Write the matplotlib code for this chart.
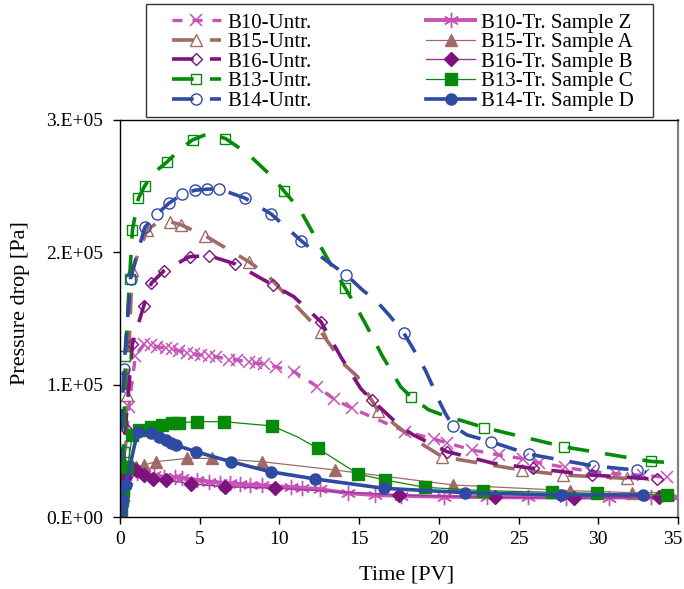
import matplotlib
matplotlib.use("Agg")
import matplotlib.pyplot as plt
from matplotlib.ticker import FuncFormatter, FixedLocator
from matplotlib.patches import Rectangle
from matplotlib.transforms import ScaledTranslation

plt.rcParams['font.family'] = ['Liberation Serif', 'DejaVu Serif']

# ---------------- data (pressure in units of 1e5 Pa) ----------------
b10u_t = [0.05, 0.2, 0.55, 0.97, 1.52, 1.93, 2.35, 2.87, 3.29, 3.71, 4.23, 4.65, 5.07, 5.59, 6.01,
          6.84, 7.37, 8.10, 8.51, 9.04, 9.77, 10.92, 12.38, 13.43, 14.58, 17.9, 19.7, 20.5, 22.1,
          23.8, 25.3, 26.3, 27.9, 29.5, 31.1, 32.8, 34.3]
b10u_p = [0.05, 0.30, 0.83, 1.22, 1.305, 1.30, 1.287, 1.275, 1.267, 1.257, 1.237, 1.23, 1.225, 1.217, 1.212,
          1.19, 1.187, 1.17, 1.162, 1.156, 1.136, 1.098, 0.985, 0.89, 0.82, 0.645, 0.59, 0.56, 0.506,
          0.468, 0.44, 0.41, 0.375, 0.345, 0.327, 0.315, 0.30]

b15u_t = [0.1, 0.45, 0.76, 1.7, 2.3, 3.12, 3.84, 5.36, 8.07, 9.23, 10.7, 12.6, 14.0, 14.9, 16.2,
          18.2, 20.2, 22.6, 25.2, 27.8, 31.8]
b15u_p = [0.1, 0.92, 1.87, 2.17, 2.22, 2.232, 2.207, 2.124, 1.93, 1.83, 1.64, 1.40, 1.16, 1.06, 0.80,
          0.607, 0.456, 0.406, 0.355, 0.317, 0.292]
b15u_m = [1, 2, 3, 5, 6, 7, 8, 11, 14, 16, 18, 19, 20]

b16u_t = [0.05, 0.34, 0.78, 1.49, 1.96, 2.75, 4.36, 5.57, 7.24, 9.58, 10.9, 12.6, 13.9, 15.1, 15.8,
          17.6, 18.4, 19.9, 20.5, 21.8, 23.4, 25.9, 29.6, 33.7]
b16u_p = [0.05, 0.67, 1.31, 1.595, 1.766, 1.86, 1.967, 1.975, 1.912, 1.754, 1.665, 1.476, 1.2, 0.97, 0.884,
          0.683, 0.62, 0.53, 0.494, 0.456, 0.406, 0.368, 0.317, 0.285]
b16u_m = [1, 2, 3, 4, 5, 6, 7, 8, 9, 11, 14, 18, 21, 22, 23]

b13u_t = [0.05, 0.22, 0.34, 0.60, 0.78, 1.16, 1.54, 2.12, 2.92, 3.69, 4.55, 5.6, 6.61, 7.97, 9.64,
          10.31, 11.3, 12.36, 13.5, 14.13, 14.66, 15.4, 16.44, 17.6, 18.27, 19.36, 20.5, 21.66, 22.85,
          27.87, 33.3, 34.75]
b13u_p = [0.1, 0.49, 1.22, 1.80, 2.17, 2.41, 2.50, 2.60, 2.68, 2.77, 2.85, 2.90, 2.86, 2.75, 2.56,
          2.46, 2.32, 2.09, 1.85, 1.73, 1.62, 1.46, 1.22, 0.985, 0.905, 0.81, 0.76, 0.72, 0.675,
          0.53, 0.42, 0.41]
b13u_m = [1, 2, 3, 4, 5, 6, 8, 10, 12, 15, 19, 24, 28, 29, 30]

b14u_t = [0.0, 0.03, 0.24, 0.66, 1.39, 1.56, 2.33, 3.06, 3.90, 4.73, 5.47, 6.2, 7.83, 9.48, 11.38,
          12.36, 13.3, 14.2, 15.2, 16.1, 16.85, 17.8, 18.3, 19.15, 19.57, 19.99, 20.4, 20.87, 21.77,
          23.27, 25.64, 29.64, 32.4, 33.0]
b14u_p = [0.08, 0.42, 1.12, 1.80, 2.12, 2.19, 2.29, 2.37, 2.44, 2.47, 2.477, 2.48, 2.41, 2.29, 2.086,
          1.99, 1.905, 1.83, 1.716, 1.63, 1.53, 1.39, 1.29, 1.11, 1.0, 0.884, 0.784, 0.688, 0.62,
          0.569, 0.475, 0.387, 0.354, 0.34]
b14u_m = [1, 2, 3, 5, 6, 7, 8, 9, 10, 11, 12, 13, 14, 17, 21, 27, 29, 30, 31, 32]

b10t_t = [0.0, 0.16, 0.4, 0.7, 1.08, 1.49, 2.12, 2.75, 3.48, 3.9, 4.84, 5.57, 6.3, 6.93, 7.55,
          8.18, 8.9, 10.7, 11.4, 12.57, 14.3, 16.0, 17.6, 20.3, 23.0, 25.6, 28.0, 30.7, 33.3, 35.0]
b10t_p = [0.03, 0.15, 0.28, 0.33, 0.33, 0.325, 0.315, 0.305, 0.30, 0.295, 0.28, 0.268, 0.26, 0.255, 0.25,
          0.245, 0.24, 0.225, 0.22, 0.21, 0.18, 0.166, 0.16, 0.153, 0.15, 0.148, 0.147, 0.147, 0.148, 0.15]

b15t_t = [0.05, 0.35, 0.99, 1.52, 2.24, 4.23, 5.8, 8.9, 13.5, 20.9, 28.24, 32.1, 34.3]
b15t_p = [0.1, 0.38, 0.38, 0.393, 0.418, 0.443, 0.443, 0.418, 0.355, 0.242, 0.199, 0.184, 0.185]
b15t_m = [1, 2, 3, 4, 5, 6, 7, 8, 9, 10, 11]

b16t_t = [0.05, 0.3, 0.66, 0.99, 1.52, 2.04, 2.87, 4.48, 6.6, 9.75, 17.5, 23.5, 28.45, 33.8]
b16t_p = [0.08, 0.30, 0.38, 0.355, 0.317, 0.29, 0.28, 0.25, 0.229, 0.217, 0.166, 0.149, 0.141, 0.149]

b13t_t = [0.05, 0.1, 0.2, 0.47, 0.78, 1.2, 1.93, 2.66, 3.29, 3.71, 4.86, 6.53, 9.54, 11.1, 12.4,
          14.93, 16.6, 19.15, 22.8, 27.1, 29.9, 34.3]
b13t_p = [0.05, 0.13, 0.2, 0.38, 0.62, 0.658, 0.683, 0.695, 0.708, 0.713, 0.72, 0.72, 0.688, 0.607, 0.519,
          0.325, 0.28, 0.224, 0.199, 0.187, 0.179, 0.166]
b13t_m = [0, 1, 2, 3, 4, 5, 6, 7, 8, 9, 10, 11, 12, 14, 15, 16, 17, 18, 19, 20, 21]

b14t_t = [0.0, 0.05, 0.16, 0.36, 1.1, 1.93, 2.46, 2.87, 3.19, 3.5, 4.75, 6.95, 9.44, 12.26, 16.54,
          21.66, 27.66, 32.8]
b14t_p = [0.03, 0.066, 0.13, 0.242, 0.645, 0.632, 0.607, 0.582, 0.557, 0.544, 0.494, 0.418, 0.342,
          0.287, 0.217, 0.184, 0.166, 0.166]

labels_untr = ["B10-Untr.", "B15-Untr.", "B16-Untr.", "B13-Untr.", "B14-Untr."]
labels_tr = ["B10-Tr. Sample Z", "B15-Tr. Sample A", "B16-Tr. Sample B",
             "B13-Tr. Sample C", "B14-Tr. Sample D"]
x_ticks = [0, 5, 10, 15, 20, 25, 30, 35]
y_ticks = [0, 1e5, 2e5, 3e5]

# ---------------- style ----------------
PINK = '#C853B8'
BROWN = '#A06A66'
PURPLE = '#7E127E'
GREEN = '#078A0A'
BLUE = '#2E4AA2'
SC = 1e5

fig = plt.figure(figsize=(6.84, 5.89), dpi=100)
ax = fig.add_axes([120 / 684, 1 - 517 / 589, 558 / 684, 397 / 589])

def pa(v):
    return [x * SC for x in v]

dash_long = (0, (6, 4.5))
dash_short = (0, (3, 3))
handles = []

h, = ax.plot(b10u_t, pa(b10u_p), color=PINK, lw=2.4, ls=dash_short, marker='x', ms=9,
             mew=1.1, label=labels_untr[0])
handles.append(h)
h, = ax.plot(b15u_t, pa(b15u_p), color=BROWN, lw=2.6, ls=dash_long, marker='^', ms=8.5,
             mfc='none', mew=1.0, markevery=b15u_m, label=labels_untr[1])
handles.append(h)
h, = ax.plot(b16u_t, pa(b16u_p), color=PURPLE, lw=2.6, ls=dash_long, marker='D', ms=6.5,
             mfc='none', mew=1.0, markevery=b16u_m, label=labels_untr[2])
handles.append(h)
h, = ax.plot(b13u_t, pa(b13u_p), color=GREEN, lw=2.6, ls=dash_long, marker='s', ms=7.5,
             mfc='none', mew=1.0, markevery=b13u_m, label=labels_untr[3])
handles.append(h)
h, = ax.plot(b14u_t, pa(b14u_p), color=BLUE, lw=2.6, ls=dash_long, marker='o', ms=8,
             mfc='none', mew=1.0, markevery=b14u_m, label=labels_untr[4])
handles.append(h)

h, = ax.plot(b10t_t, pa(b10t_p), color=PINK, lw=2.8, ls='-', marker=(6, 2, 0), ms=11,
             mew=1.0, label=labels_tr[0])
handles.append(h)
h, = ax.plot(b15t_t, pa(b15t_p), color=BROWN, lw=0.9, ls='-', marker='^', ms=9,
             markevery=b15t_m, label=labels_tr[1])
handles.append(h)
h, = ax.plot(b16t_t, pa(b16t_p), color='#9A3A9A', lw=1.0, ls='-', marker='D', ms=7,
             mfc=PURPLE, mec=PURPLE, label=labels_tr[2])
handles.append(h)
h, = ax.plot(b13t_t, pa(b13t_p), color=GREEN, lw=0.9, ls='-', marker='s', ms=8,
             markevery=b13t_m, label=labels_tr[3])
handles.append(h)
h, = ax.plot(b14t_t, pa(b14t_p), color=BLUE, lw=2.6, ls='-', marker='o', ms=8,
             label=labels_tr[4])
handles.append(h)

ax.set_xlim(0, 35)
ax.set_ylim(0, 3e5)
ax.xaxis.set_major_locator(FixedLocator(x_ticks))
ax.yaxis.set_major_locator(FixedLocator(y_ticks))

def yfmt(v, pos):
    if v == 0:
        return "0.E+00"
    return "%d.E+05" % round(v / 1e5)

ax.yaxis.set_major_formatter(FuncFormatter(yfmt))
ax.tick_params(axis='both', direction='out', length=5, width=1, labelsize=14)
ax.tick_params(axis='y', pad=7)
ax.tick_params(axis='x', pad=5)
for s in ['left', 'bottom', 'top']:
    ax.spines[s].set_linewidth(1.0)
    ax.spines[s].set_color('black')
ax.spines['right'].set_linewidth(1.6)
ax.spines['right'].set_color('#808080')

# keep the last x tick label inside the figure
fig.canvas.draw()
for lbl in ax.get_xticklabels():
    if lbl.get_text() == '35':
        lbl.set_transform(lbl.get_transform() + ScaledTranslation(-0.05, 0, fig.dpi_scale_trans))

ax.set_xlabel("Time [PV]", fontsize=16)
ax.set_ylabel("Pressure drop [Pa]", fontsize=16)
ax.xaxis.set_label_coords(0.513, -0.123)
ax.yaxis.set_label_coords(-0.162, 0.54)

leg = fig.legend(handles, labels_untr + labels_tr, ncol=2, loc='upper left',
                 bbox_to_anchor=(172 / 684, 1 - 13 / 589), borderaxespad=0, borderpad=0,
                 frameon=False, fontsize=15, handlelength=2.35, handletextpad=0.3,
                 columnspacing=5.5, labelspacing=0.0, numpoints=1)

fig.add_artist(Rectangle((146 / 684, 1 - 117 / 589), 507 / 684, 113 / 589,
                         transform=fig.transFigure, fill=False, edgecolor='#333333',
                         lw=1.0, zorder=5))

fig.savefig("out.png", dpi=100)
